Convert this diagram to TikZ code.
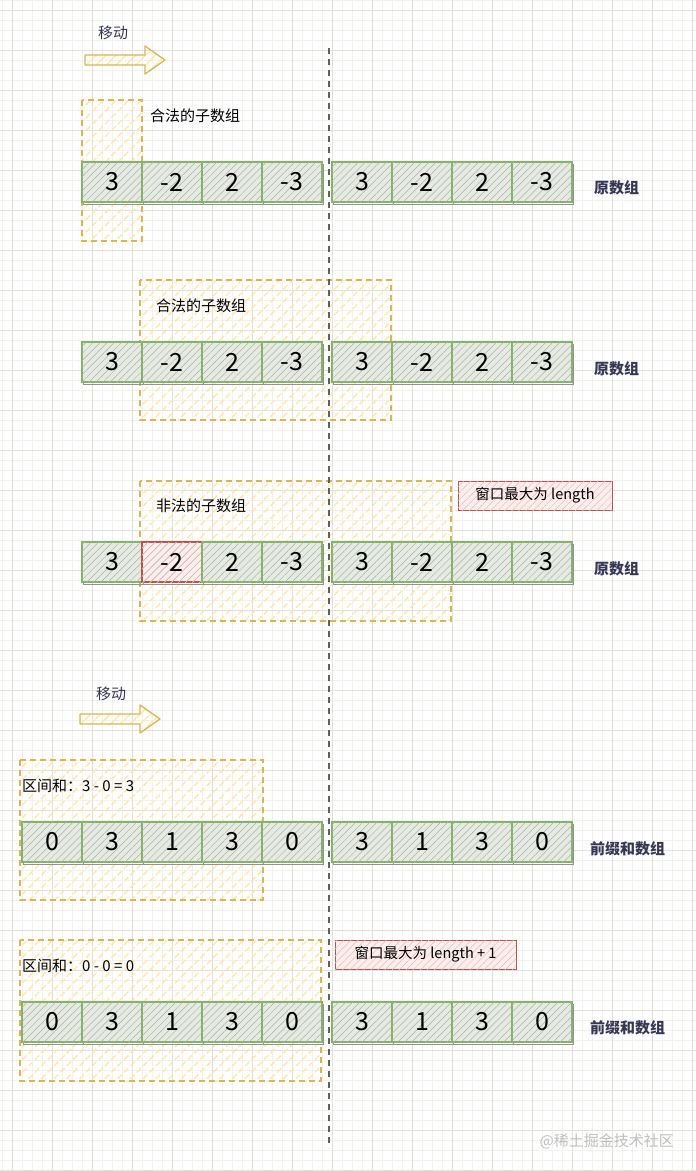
\documentclass[tikz,border=0pt]{standalone}
\usepackage{fontspec}
\setmainfont{Noto Sans CJK SC}
\usetikzlibrary{positioning,patterns.meta}
\definecolor{gridminor}{HTML}{F3F1ED}
\definecolor{gridmajor}{HTML}{E3E0D9}
\definecolor{cellgreen}{HTML}{82B366}
\definecolor{cellfill}{HTML}{E6EAE3}
\definecolor{cellhatch}{HTML}{A9B3A6}
\definecolor{winedge}{HTML}{D6B656}
\definecolor{winhatch}{HTML}{FFE6A3}
\definecolor{badedge}{HTML}{B85450}
\definecolor{badfill}{HTML}{FBEFEE}
\definecolor{badhatch}{HTML}{F0B9B6}
\definecolor{navy}{HTML}{363655}
\tikzset{
  cell/.style={draw=cellgreen, line width=1.1pt, fill=cellfill,
    preaction={draw=gray!85, line width=.7pt, transform canvas={xshift=1.5pt,yshift=-2.5pt}},
    postaction={pattern={Lines[angle=45,distance=5pt,line width=.5pt]}, pattern color=cellhatch},
    minimum width=60pt, minimum height=40pt, inner sep=0pt, font=\fontsize{25}{25}\selectfont},
  badcell/.style={cell, draw=badedge, fill=badfill,
    postaction={pattern={Lines[angle=45,distance=5pt,line width=.5pt]}, pattern color=badhatch}},
  window/.style={draw=winedge, line width=2pt, dash pattern=on 6pt off 4pt,
    pattern={Lines[angle=45,distance=9pt,line width=1.2pt]}, pattern color=winhatch},
  movearrow/.style={draw=winedge, line width=1.3pt, line join=round,
    pattern={Lines[angle=45,distance=7pt,line width=1.2pt]}, pattern color=winhatch},
  divider/.style={draw=gray!75!black, line width=1.5pt, dash pattern=on 6pt off 5pt},
  warnbox/.style={draw=badedge, line width=1pt, fill=badfill,
    postaction={pattern={Lines[angle=45,distance=5pt,line width=.5pt]}, pattern color=badhatch},
    minimum height=29pt, inner sep=0pt, font=\fontsize{14.5}{16}\selectfont},
  note/.style={anchor=west, inner sep=0pt, font=\fontsize{15}{18}\selectfont},
  rowlabel/.style={anchor=west, inner sep=0pt, text=navy, font=\fontsize{15}{18}\selectfont\bfseries},
  movelabel/.style={inner sep=0pt, text=navy, font=\fontsize{15}{18}\selectfont}
}
\begin{document}
\begin{tikzpicture}[x=1pt,y=-1pt]
  \useasboundingbox (0,0) rectangle (696,1171);
  \fill[white] (0,0) rectangle (696,1171);
  % grid
  \foreach \gx in {2,12,...,692} \draw[gridminor, line width=.6pt] (\gx,0) -- (\gx,1171);
  \foreach \gy in {0,10,...,1170} \draw[gridminor, line width=.6pt] (0,\gy) -- (696,\gy);
  \foreach \gx in {12,52,...,692} \draw[gridmajor, line width=.8pt] (\gx,0) -- (\gx,1171);
  \foreach \gy in {10,50,...,1170} \draw[gridmajor, line width=.8pt] (0,\gy) -- (696,\gy);

  % windows
  \draw[window] (82,100) rectangle (142,241);
  \draw[window] (140,280) rectangle (391,420);
  \draw[window] (140,481) rectangle (451,621);
  \draw[window] (20,760) rectangle (263,900);
  \draw[window] (20,940) rectangle (321,1081);

  \draw[divider] (329,48) -- (329,1148);

  % moving arrows
  \node[movelabel] (mv1) at (113,33) {移动};
  \draw[movearrow] (85,55) -- (145,55) -- (145,46) -- (165,60) -- (145,74) -- (145,65) -- (85,65) -- cycle;
  \node[movelabel] (mv2) at (111,694) {移动};
  \draw[movearrow] (80,714) -- (140,714) -- (140,705) -- (160,719) -- (140,733) -- (140,724) -- (80,724) -- cycle;

  % original arrays
  \foreach \v [count=\i] in {3,-2,2,-3} {
    \node[cell] (a\i) at (52+60*\i,182) {\v};
    \node[cell] (b\i) at (302+60*\i,182) {\v};
    \node[cell] (c\i) at (52+60*\i,362) {\v};
    \node[cell] (d\i) at (302+60*\i,362) {\v};
    \node[cell] (f\i) at (302+60*\i,562) {\v};
  }
  \foreach \v/\s [count=\i] in {3/cell,-2/badcell,2/cell,-3/cell}
    \node[\s] (e\i) at (52+60*\i,562) {\v};

  % prefix sum arrays
  \foreach \v [count=\i] in {0,3,1,3,0} {
    \node[cell] (p\i) at (-8+60*\i,842) {\v};
    \node[cell] (r\i) at (-8+60*\i,1022) {\v};
  }
  \foreach \v [count=\i] in {3,1,3,0} {
    \node[cell] (q\i) at (302+60*\i,842) {\v};
    \node[cell] (s\i) at (302+60*\i,1022) {\v};
  }

  % texts
  \node[note] (ok1) at (150,116) {合法的子数组};
  \node[note] (ok2) at (156,306) {合法的子数组};
  \node[note] (bad) at (156,506) {非法的子数组};
  \node[note] (sum1) at (22,786) {区间和：3 - 0 = 3};
  \node[note] (sum2) at (22,966) {区间和：0 - 0 = 0};
  \node[warnbox, minimum width=154pt] (max1) at (535,495.5) {窗口最大为 length};
  \node[warnbox, minimum width=181pt] (max2) at (425.5,954.5) {窗口最大为 length + 1};

  \node[rowlabel] (arr1) at (594,188) {原数组};
  \node[rowlabel] (arr2) at (594,369) {原数组};
  \node[rowlabel] (arr3) at (594,569) {原数组};
  \node[rowlabel] (pre1) at (590,849) {前缀和数组};
  \node[rowlabel] (pre2) at (590,1028) {前缀和数组};

  \node[anchor=east, inner sep=0pt, text=gray!50, font=\fontsize{15}{18}\selectfont] (mark) at (674,1141) {@稀土掘金技术社区};
\end{tikzpicture}
\end{document}
